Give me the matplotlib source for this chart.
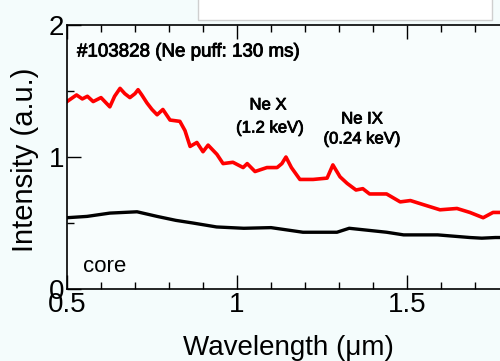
import matplotlib
matplotlib.use("Agg")
import matplotlib.pyplot as plt
import matplotlib.patheffects as pe
from matplotlib.patches import Rectangle
from matplotlib.ticker import MultipleLocator

plt.rcParams['font.family'] = ['Liberation Sans', 'DejaVu Sans']

# Red spectrum (Ne puff) - wavelength (um) and intensity (a.u.)
red_x = [0.500, 0.528, 0.545, 0.560, 0.577, 0.600, 0.626, 0.640, 0.656, 0.670, 0.685,
         0.700, 0.709, 0.720, 0.735, 0.750, 0.765, 0.782, 0.803, 0.832, 0.847, 0.862,
         0.882, 0.900, 0.915, 0.941, 0.959, 0.988, 1.018, 1.030, 1.053, 1.088, 1.118,
         1.132, 1.144, 1.160, 1.185, 1.224, 1.265, 1.282, 1.303, 1.324, 1.350, 1.370,
         1.390, 1.440, 1.480, 1.510, 1.547, 1.597, 1.647, 1.685, 1.724, 1.753, 1.800]
red_y = [1.42, 1.47, 1.44, 1.46, 1.42, 1.45, 1.38, 1.46, 1.52, 1.48, 1.45,
         1.48, 1.51, 1.47, 1.41, 1.36, 1.32, 1.36, 1.28, 1.27, 1.20, 1.08,
         1.11, 1.04, 1.09, 1.02, 0.95, 0.96, 0.92, 0.95, 0.89, 0.92, 0.92,
         0.95, 1.00, 0.92, 0.83, 0.83, 0.84, 0.94, 0.85, 0.80, 0.75, 0.76,
         0.72, 0.72, 0.66, 0.67, 0.64, 0.60, 0.61, 0.58, 0.54, 0.58, 0.58]

# Black spectrum (core)
blk_x = [0.500, 0.559, 0.626, 0.706, 0.765, 0.820, 0.870, 0.940, 1.020, 1.100,
         1.194, 1.294, 1.330, 1.440, 1.490, 1.590, 1.685, 1.720, 1.760, 1.800]
blk_y = [0.54, 0.55, 0.575, 0.585, 0.55, 0.52, 0.50, 0.47, 0.46, 0.465,
         0.43, 0.43, 0.46, 0.43, 0.41, 0.41, 0.39, 0.385, 0.39, 0.39]

x_ticks = [0.5, 1.0, 1.5]
x_ticklabels = ["0.5", "1", "1.5"]
y_ticks = [0, 1, 2]
y_ticklabels = ["0", "1", "2"]

W, H = 500, 361
fig = plt.figure(figsize=(W / 100, H / 100), dpi=100, facecolor='#f4fcfc')

# top-right white box
fig.patches.append(Rectangle((198 / W, 1 - 20 / H), (492 - 198) / W, 20 / H + 0.01,
                             transform=fig.transFigure, facecolor='white',
                             edgecolor='#cfcfcf', linewidth=1.0, zorder=0))

ax_l, ax_b = 67 / W, 1 - 289 / H
ax_w, ax_h = 510 / W, 264 / H
ax = fig.add_axes([ax_l, ax_b, ax_w, ax_h])
ax.set_facecolor('#f8fdfd')

ax.plot(red_x, red_y, color='#ff0000', lw=2.6)
ax.plot(blk_x, blk_y, color='black', lw=2.4)

ax.set_xlim(0.5, 2.0)
ax.set_ylim(0, 2)
ax.set_xticks(x_ticks)
ax.set_xticklabels(x_ticklabels)
ax.set_yticks(y_ticks)
ax.set_yticklabels(y_ticklabels)
ax.xaxis.set_minor_locator(MultipleLocator(0.1))
ax.yaxis.set_minor_locator(MultipleLocator(0.5))
ax.tick_params(which='both', direction='in', top=True, right=True, labelsize=20,
               width=1.0, color='black')
ax.tick_params(which='major', length=10)
ax.tick_params(which='minor', length=5)
ax.tick_params(axis='y', pad=2)
ax.tick_params(axis='x', pad=2)
for s in ax.spines.values():
    s.set_linewidth(1.2)

ax.set_xlabel("Wavelength (μm)", fontsize=20)
ax.xaxis.set_label_coords((288 - 67) / 510, -0.175)
ax.set_ylabel("Intensity (a.u.)", fontsize=21)
ax.yaxis.set_label_coords(-0.082, 0.49)
ax.yaxis.label.set_va('center')


def px(xp, yp):
    return 0.5 + (xp - 67) / 340, (289 - yp) / 132


heavy = [pe.withStroke(linewidth=0.6, foreground='black')]
ax.text(*px(77, 52), "#103828 (Ne puff: 130 ms)", fontsize=13.5, ha='left', va='center',
        path_effects=heavy)
ax.text(*px(268, 105), "Ne X", fontsize=12, ha='center', va='center', path_effects=heavy)
ax.text(*px(270, 128), "(1.2 keV)", fontsize=12, ha='center', va='center', path_effects=heavy)
ax.text(*px(362, 119), "Ne IX", fontsize=12, ha='center', va='center', path_effects=heavy)
ax.text(*px(362, 139), "(0.24 keV)", fontsize=12, ha='center', va='center', path_effects=heavy)
ax.text(*px(83, 267), "core", fontsize=16, ha='left', va='center')

fig.savefig("out.png", dpi=100, facecolor=fig.get_facecolor())
